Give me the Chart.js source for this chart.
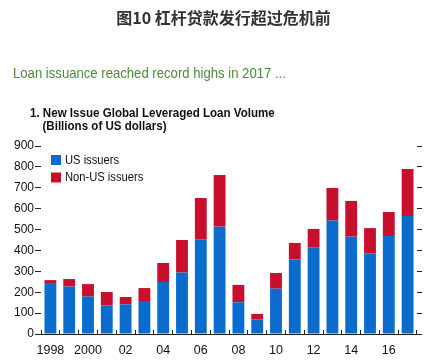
<!DOCTYPE html>
<html>
<head>
<meta charset="utf-8">
<script src="https://cdn.jsdelivr.net/npm/chart.js@4"></script>
<style>
  body { margin: 0; background: #fff; }
  #wrap { position: relative; width: 437px; height: 364px; overflow: hidden; }
  .txt { position: absolute; white-space: nowrap; transform-origin: 0 0; }
  #head { left: 5px; width: 437px; top: 5px; text-align: center; font: bold 16px "Noto Sans CJK SC", sans-serif; color: #333; }
  #sub { left: 13px; top: 65px; font: 15px/15px "Liberation Sans", Arial, sans-serif; color: #4d8a3a; transform: scaleX(0.875); }
  #ttl { left: 30px; top: 106px; font: bold 13px/13px "Liberation Sans", Arial, sans-serif; color: #111; transform: scaleX(0.89); }
  #ttl span { padding-left: 14px; }
  canvas { position: absolute; left: 0; top: 0; }
</style>
</head>
<body>
<div id="wrap">
  <canvas id="chart" width="437" height="364"></canvas>
  <div class="txt" id="head">图10 杠杆贷款发行超过危机前</div>
  <div class="txt" id="sub">Loan issuance reached record highs in 2017 ...</div>
  <div class="txt" id="ttl">1. New Issue Global Leveraged Loan Volume<br><span>(Billions of US dollars)</span></div>
</div>
<script>
/* ================= DATA ================= */
const years = ["1998","1999","2000","2001","2002","2003","2004","2005","2006","2007",
               "2008","2009","2010","2011","2012","2013","2014","2015","2016","2017"];
const tickLabels = ["1998","","2000","","02","","04","","06","",
                    "08","","10","","12","","14","","16",""];
const usIssuers    = [240, 227, 179, 136, 142, 158, 249, 294, 452, 514, 152, 69, 217, 356, 413, 543, 466, 385, 469, 565];
const nonUsIssuers = [ 18,  36,  60,  65,  35,  62,  91, 156, 199, 247,  83, 27,  75,  80,  90, 156, 171, 122, 115, 225];
const yMax = 900;
const yStep = 100;

/* ================= STYLE ================= */
const SANS = '"Liberation Sans", Arial, sans-serif';
const AXIS = "#222";

/* legend drawn inside the plot, text squeezed a bit like the original */
const innerLegend = {
    id: "innerLegend",
    afterDraw(chart) {
        const ctx = chart.ctx;
        const a = chart.chartArea;
        ctx.save();
        ctx.font = "13px " + SANS;
        ctx.textBaseline = "middle";
        chart.data.datasets.forEach((ds, i) => {
            const y = a.top + 14 + i * 17.5;
            ctx.fillStyle = ds.backgroundColor;
            ctx.fillRect(a.left + 10, y - 5, 10, 10);
            ctx.save();
            ctx.translate(a.left + 24, y);
            ctx.scale(0.86, 1);
            ctx.fillStyle = "#111";
            ctx.fillText(ds.label, 0, 0);
            ctx.restore();
        });
        ctx.restore();
    }
};

new Chart(document.getElementById("chart"), {
    type: "bar",
    data: {
        labels: years,
        datasets: [
            { label: "US issuers", data: usIssuers, backgroundColor: "#0a6ccc" },
            { label: "Non-US issuers", data: nonUsIssuers, backgroundColor: "#c8102e" }
        ]
    },
    options: {
        responsive: false,
        animation: false,
        layout: { padding: { top: 146, right: 14, bottom: 0, left: 0 } },
        datasets: { bar: { barPercentage: 0.63, categoryPercentage: 1 } },
        plugins: { legend: { display: false }, tooltip: { enabled: false } },
        scales: {
            x: {
                stacked: true,
                afterFit(s) { s.height = 30; },
                grid: { drawOnChartArea: false, drawTicks: true, tickLength: -4, color: AXIS, offset: true },
                border: { display: true, color: AXIS, width: 1 },
                ticks: {
                    autoSkip: false, maxRotation: 0, padding: 13,
                    color: "#111", font: { family: SANS, size: 12.5 },
                    callback: (v, i) => tickLabels[i]
                }
            },
            y: {
                stacked: true,
                min: 0, max: yMax,
                afterFit(s) { s.width = 41; },
                grid: { drawOnChartArea: false, drawTicks: true, tickLength: 6, color: AXIS },
                border: { display: false },
                ticks: { stepSize: yStep, padding: 1, color: "#111", font: { family: SANS, size: 12 } }
            },
            y2: {
                position: "right",
                display: true,
                min: 0, max: yMax,
                afterFit(s) { s.width = 6; },
                grid: { drawOnChartArea: false, drawTicks: true, tickLength: 5, color: AXIS },
                border: { display: false },
                ticks: { display: false, stepSize: yStep }
            }
        }
    },
    plugins: [innerLegend]
});
</script>
</body>
</html>
